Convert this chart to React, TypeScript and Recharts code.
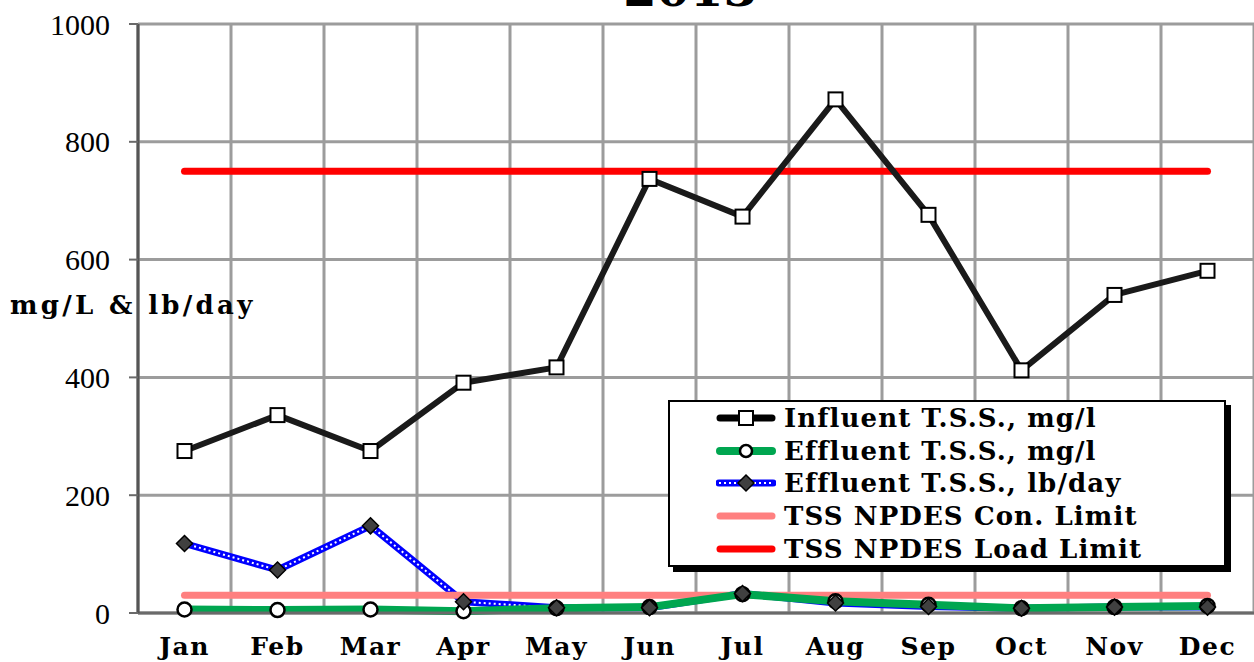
import React from 'react';
import { LineChart, Line, XAxis, YAxis, CartesianGrid, Legend } from 'recharts';

const months = ['Jan', 'Feb', 'Mar', 'Apr', 'May', 'Jun', 'Jul', 'Aug', 'Sep', 'Oct', 'Nov', 'Dec'];
const influentMgL = [275, 336, 275, 391, 417, 737, 673, 872, 676, 412, 540, 581];
const effluentMgL = [6, 5, 6, 3, 8, 10, 32, 20, 14, 8, 10, 12];
const effluentLbDay = [118, 73, 148, 19, 9, 9, 33, 17, 11, 8, 10, 10];
const conLimit = [30, 30, 30, 30, 30, 30, 30, 30, 30, 30, 30, 30];
const loadLimit = [750, 750, 750, 750, 750, 750, 750, 750, 750, 750, 750, 750];
const yTicks = [0, 200, 400, 600, 800, 1000];
const gridTicks = [0, 1, 2, 3, 4, 5, 6, 7, 8, 9, 10, 11, 12];
const title = '2013';
const yLabel = 'mg/L & lb/day';
const seriesNames = [
  'Influent T.S.S., mg/l',
  'Effluent T.S.S., mg/l',
  'Effluent T.S.S., lb/day',
  'TSS NPDES Con. Limit',
  'TSS NPDES Load Limit',
];

const data = months.map((m, i) => ({
  month: m,
  influent: influentMgL[i],
  effMg: effluentMgL[i],
  effLb: effluentLbDay[i],
  con: conLimit[i],
  load: loadLimit[i],
}));

const BOLD = '"DejaVu Serif", serif';
const REG = '"Liberation Serif", "Times New Roman", serif';

const SquareDot = (p: any) => (
  <rect key={`sq-${p.index}`} x={p.cx - 7} y={p.cy - 7} width={14} height={14} fill="#fff" stroke="#000" strokeWidth={2} />
);
const CircleDot = (p: any) => (
  <circle key={`ci-${p.index}`} cx={p.cx} cy={p.cy} r={7} fill="#fff" stroke="#000" strokeWidth={2.5} />
);
const DiamondDot = (p: any) => (
  <polygon
    key={`di-${p.index}`}
    points={`${p.cx},${p.cy - 8} ${p.cx + 8},${p.cy} ${p.cx},${p.cy + 8} ${p.cx - 8},${p.cy}`}
    fill="#404040"
    stroke="#000"
    strokeWidth={1.5}
  />
);

const LegendIcon = ({ idx }: { idx: number }) => {
  const w = 60;
  const h = 26;
  const y = h / 2;
  if (idx === 0)
    return (
      <svg width={w} height={h}>
        <line x1={4} y1={y} x2={w - 4} y2={y} stroke="#000" strokeWidth={7} strokeLinecap="round" />
        <rect x={w / 2 - 7} y={y - 7} width={14} height={14} fill="#fff" stroke="#000" strokeWidth={2} />
      </svg>
    );
  if (idx === 1)
    return (
      <svg width={w} height={h}>
        <line x1={4} y1={y} x2={w - 4} y2={y} stroke="#00A650" strokeWidth={8} strokeLinecap="round" />
        <circle cx={w / 2} cy={y} r={6} fill="#fff" stroke="#000" strokeWidth={2.5} />
      </svg>
    );
  if (idx === 2)
    return (
      <svg width={w} height={h}>
        <line x1={3} y1={y} x2={w - 3} y2={y} stroke="#0000FF" strokeWidth={7} strokeLinecap="round" />
        <line x1={3} y1={y} x2={w - 3} y2={y} stroke="#fff" strokeWidth={2} strokeDasharray="2 3" />
        <polygon points={`${w / 2},${y - 8} ${w / 2 + 8},${y} ${w / 2},${y + 8} ${w / 2 - 8},${y}`} fill="#404040" stroke="#000" strokeWidth={1.5} />
      </svg>
    );
  if (idx === 3)
    return (
      <svg width={w} height={h}>
        <line x1={4} y1={y} x2={w - 4} y2={y} stroke="#FF8080" strokeWidth={7} strokeLinecap="round" />
      </svg>
    );
  return (
    <svg width={w} height={h}>
      <line x1={4} y1={y} x2={w - 4} y2={y} stroke="#FF0000" strokeWidth={7} strokeLinecap="round" />
    </svg>
  );
};

const renderLegend = () => (
  <div
    style={{
      boxSizing: 'border-box',
      width: 558,
      height: 167,
      border: '2px solid #000',
      background: '#fff',
      boxShadow: '5px 5px 0 #000',
      paddingTop: 0,
      paddingLeft: 46,
    }}
  >
    {seriesNames.map((n, i) => (
      <div key={n} style={{ display: 'flex', alignItems: 'center', height: 32.6 }}>
        <LegendIcon idx={i} />
        <span
          style={{
            fontFamily: BOLD,
            fontWeight: 'bold',
            fontSize: 26,
            letterSpacing: 1.1,
            marginLeft: 8,
            color: '#000',
            whiteSpace: 'nowrap',
          }}
        >
          {n}
        </span>
      </div>
    ))}
  </div>
);

const YLabel = () => (
  <text x={10} y={314} fontFamily={BOLD} fontWeight="bold" fontSize={26} letterSpacing={3.3} fill="#000">
    {yLabel}
  </text>
);

const verticalGrid = ({ offset }: any) => gridTicks.map((t) => offset.left + (t * offset.width) / 12);

export default function App() {
  return (
    <div style={{ position: 'absolute', left: 0, top: 0, width: 1254, height: 662, background: '#fff', overflow: 'hidden' }}>
      <LineChart width={1254} height={662} data={data} margin={{ top: 24, right: 0, bottom: 0, left: 0 }}>
        <text x={690} y={6} textAnchor="middle" fontFamily={BOLD} fontWeight="bold" fontSize={48} fill="#000">
          {title}
        </text>
        <CartesianGrid stroke="#9c9c9c" strokeWidth={3} verticalCoordinatesGenerator={verticalGrid} />
        <XAxis
          xAxisId="g"
          type="number"
          domain={[0, 12]}
          ticks={gridTicks}
          height={0}
          tickSize={9}
          tickFormatter={() => ''}
          tickLine={{ stroke: '#6a6a6a', strokeWidth: 2 }}
          axisLine={false}
        />
        <XAxis
          xAxisId="c"
          dataKey="month"
          height={49}
          padding={{ left: 46.5, right: 46.5 }}
          tickLine={false}
          axisLine={{ stroke: '#6a6a6a', strokeWidth: 3 }}
          tickMargin={18}
          tick={{ fontFamily: BOLD, fontWeight: 'bold', fontSize: 25, letterSpacing: 1.5, fill: '#000' }}
          interval={0}
        />
        <YAxis
          width={138}
          domain={[0, 1000]}
          ticks={yTicks}
          tickSize={9}
          tickMargin={19}
          tickLine={{ stroke: '#6a6a6a', strokeWidth: 2 }}
          axisLine={{ stroke: '#555', strokeWidth: 3 }}
          tick={{ fontFamily: REG, fontSize: 30, fill: '#000' }}
          label={<YLabel />}
        />
        <Legend
          layout="vertical"
          align="center"
          verticalAlign="middle"
          content={renderLegend}
          wrapperStyle={{ position: 'absolute', left: 668, top: 400, width: 558, height: 167 }}
        />
        <Line xAxisId="c" dataKey="effLb" stroke="#0000FF" strokeWidth={7} dot={false} isAnimationActive={false} strokeLinejoin="round" />
        <Line xAxisId="c" dataKey="effLb" stroke="#fff" strokeWidth={2} strokeDasharray="2 3" dot={false} isAnimationActive={false} legendType="none" />
        <Line xAxisId="c" dataKey="con" stroke="#FF8080" strokeWidth={7} dot={false} isAnimationActive={false} strokeLinecap="round" />
        <Line xAxisId="c" dataKey="effMg" stroke="#00A650" strokeWidth={8} dot={CircleDot} isAnimationActive={false} strokeLinejoin="round" />
        <Line xAxisId="c" dataKey="effLb" stroke="none" strokeWidth={0} dot={DiamondDot} isAnimationActive={false} legendType="none" />
        <Line xAxisId="c" dataKey="load" stroke="#FF0000" strokeWidth={7} dot={false} isAnimationActive={false} strokeLinecap="round" />
        <Line xAxisId="c" dataKey="influent" stroke="#1a1a1a" strokeWidth={6} dot={SquareDot} isAnimationActive={false} strokeLinejoin="round" />
      </LineChart>
    </div>
  );
}
